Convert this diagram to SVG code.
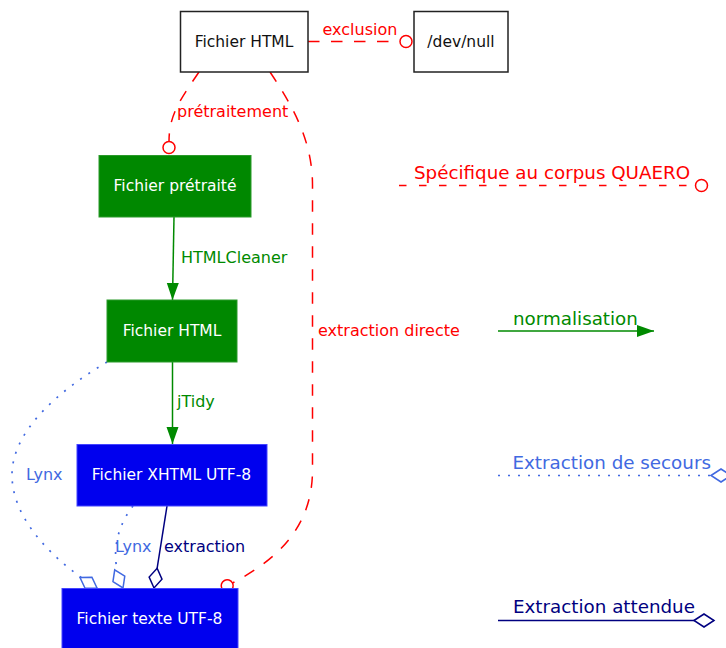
<svg xmlns="http://www.w3.org/2000/svg" width="726" height="648" viewBox="0 0 726 648">
<style>
text{font-family:"DejaVu Sans","Liberation Sans",sans-serif}
.nt{font-size:15.5px;text-anchor:middle}
.el{font-size:16px}
.lg{font-size:18.3px}
.red{fill:#f00}
.grn{fill:#008a00}
.roy{fill:#4169e1}
.nav{fill:#000080}
.wht{fill:#fff}
.blk{fill:#111}
.e{fill:none;stroke-width:1.5}
.dash{stroke:#f00;stroke-dasharray:11.5 11.5}
.dot{stroke:#4169e1;stroke-dasharray:2 8;stroke-width:1.7}
.sol-g{stroke:#008a00}
.sol-n{stroke:#000080}
</style>
<defs>
<marker id="circ" markerUnits="userSpaceOnUse" markerWidth="16" markerHeight="16" refX="1.5" refY="7.5" orient="auto" overflow="visible">
<circle cx="7.5" cy="7.5" r="6" fill="none" stroke="#f00" stroke-width="1.5"/>
</marker>
<marker id="arr" markerUnits="userSpaceOnUse" markerWidth="18" markerHeight="13" refX="17" refY="6.5" orient="auto" overflow="visible">
<path d="M0,0.5 L17,6.5 L0,12.5 z" fill="#008a00"/>
</marker>
<marker id="dmr" markerUnits="userSpaceOnUse" markerWidth="23" markerHeight="15" refX="21" refY="7" orient="auto" overflow="visible">
<path d="M1,7 L11,0.5 L21,7 L11,13.5 z" fill="#fff" stroke="#4169e1" stroke-width="1.5"/>
</marker>
<marker id="dmn" markerUnits="userSpaceOnUse" markerWidth="23" markerHeight="15" refX="21" refY="7" orient="auto" overflow="visible">
<path d="M1,7 L11,0.5 L21,7 L11,13.5 z" fill="#fff" stroke="#000080" stroke-width="1.5"/>
</marker>
</defs>

<g id="connectors">
<path class="e dash" d="M308,41.5 L400,41.5" marker-end="url(#circ)"/>
<path class="e dash" d="M199,72 C180,100 169,115 169,141.5" marker-end="url(#circ)"/>
<path class="e dash" d="M270,72 C292,105 312.5,140 312.5,185 L312.5,470 C312.5,525 280,558 232.5,583" marker-end="url(#circ)"/>
<path class="e sol-g" d="M174,217 L172.5,300" marker-end="url(#arr)"/>
<path class="e sol-g" d="M172.5,362 L172.5,444" marker-end="url(#arr)"/>
<path class="e dot" d="M107,362 C60,390 12,430 12,475 C12,520 55,562 97,588" marker-end="url(#dmr)"/>
<path class="e dot" d="M133,506 C118,525 108,555 123,588" marker-end="url(#dmr)"/>
<path class="e sol-n" d="M167,506 L154,588" marker-end="url(#dmn)"/>
<text class="el red" x="322.5" y="35">exclusion</text>
<text class="el red" x="177" y="117">prétraitement</text>
<text class="el red" x="318" y="335.5">extraction directe</text>
<text class="el grn" x="181" y="263">HTMLCleaner</text>
<text class="el grn" x="177" y="406.5">jTidy</text>
<text class="el roy" x="26" y="479.5">Lynx</text>
<text class="el roy" x="115" y="552">Lynx</text>
<text class="el nav" x="164" y="552">extraction</text>
</g>

<g id="node-html-top">
<rect x="180.5" y="11.5" width="127.5" height="60.5" fill="#fff" stroke="#222" stroke-width="1.5"/>
<text class="nt blk" x="244" y="46.5">Fichier HTML</text>
</g>
<g id="node-devnull">
<rect x="414" y="11.5" width="94" height="60.5" fill="#fff" stroke="#222" stroke-width="1.5"/>
<text class="nt blk" x="461" y="46.5">/dev/null</text>
</g>
<g id="node-pretraite">
<rect x="99" y="155.5" width="152" height="61.5" fill="#008800" stroke="#2a9a2a" stroke-width="1"/>
<text class="nt wht" x="175" y="191">Fichier prétraité</text>
</g>
<g id="node-html-green">
<rect x="107" y="300" width="130" height="62" fill="#008800" stroke="#2a9a2a" stroke-width="1"/>
<text class="nt wht" x="172" y="335.5">Fichier HTML</text>
</g>
<g id="node-xhtml">
<rect x="77" y="444.5" width="190" height="61.5" fill="#0000ee" stroke="#4444ff" stroke-width="1"/>
<text class="nt wht" x="171.5" y="480">Fichier XHTML UTF-8</text>
</g>
<g id="node-texte">
<rect x="62" y="588.5" width="176" height="62" fill="#0000ee" stroke="#4444ff" stroke-width="1"/>
<text class="nt wht" x="149.5" y="624">Fichier texte UTF-8</text>
</g>

<g id="legend">
<path class="e" stroke="#f00" stroke-dasharray="7.5 12.5" d="M399,185.5 L695.5,185.5" marker-end="url(#circ)"/>
<text class="lg red" x="414" y="179">Spécifique au corpus QUAERO</text>
<path class="e sol-g" d="M498,331 L654,331" marker-end="url(#arr)"/>
<text class="lg grn" x="513" y="325">normalisation</text>
<path class="e dot" d="M498,475.5 L731,475.5" marker-end="url(#dmr)"/>
<text class="lg roy" x="512.5" y="469">Extraction de secours</text>
<path class="e sol-n" d="M498,620.5 L714,620.5" marker-end="url(#dmn)"/>
<text class="lg nav" x="513" y="613">Extraction attendue</text>
</g>
</svg>
